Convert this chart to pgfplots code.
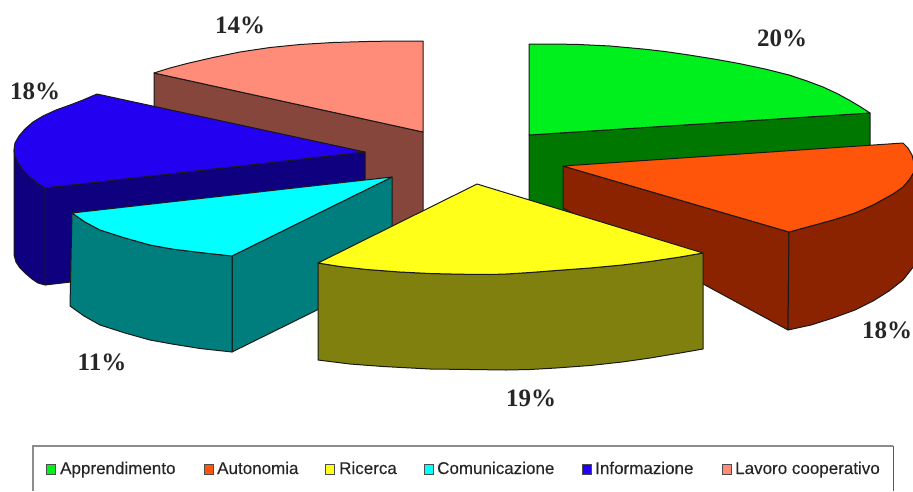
\documentclass[border=0pt]{standalone}
\usepackage{pgfplots}
\pgfplotsset{compat=1.18}
\usepackage{fontspec}
\setmainfont{Liberation Serif}
\newfontfamily\legendfont[FakeBold=0.25]{Liberation Sans}
\definecolor{greenT}{RGB}{0,240,30}
\definecolor{greenS}{RGB}{0,120,0}
\definecolor{orangeT}{RGB}{255,85,10}
\definecolor{orangeS}{RGB}{140,35,0}
\definecolor{yellowT}{RGB}{255,255,25}
\definecolor{yellowS}{RGB}{128,128,15}
\definecolor{cyanT}{RGB}{0,255,255}
\definecolor{cyanS}{RGB}{0,125,125}
\definecolor{blueT}{RGB}{35,0,240}
\definecolor{blueS}{RGB}{15,0,128}
\definecolor{salmonT}{RGB}{255,140,120}
\definecolor{salmonS}{RGB}{135,70,60}
\tikzset{
  face/.style={draw=black!90,line width=1pt,line join=round,fill=#1,mark=none},
  swatch/.style={draw=black!70,line width=0.8pt,fill=#1,mark=none},
  pct/.style={font=\fontsize{25}{25}\selectfont\bfseries,text=black!85,inner sep=0pt},
  key/.style={font=\legendfont\fontsize{17}{17}\selectfont,text=black!85,anchor=base west,inner sep=0pt},
}
\begin{document}
\begin{tikzpicture}
\begin{axis}[
  scale only axis,width=913pt,height=491pt,
  xmin=0,xmax=913,ymin=0,ymax=491,y dir=reverse,
  axis lines=none,clip=true]
% Reserve the whole plotting area for the page
\path (rel axis cs:0,0) rectangle (rel axis cs:1,1);
% Lavoro cooperativo, 14%
\addplot[face=salmonS] coordinates {(154,73)(423,132)(423,250)(154,180)} --cycle;
\addplot[face=salmonT] coordinates {(154,73)(170,68)(187,63.5)(213,57.5)(240,52)(270,47.5)(300,44.5)(333,42.5)(367,41.5)(395,41)(423,41)(423,132)} --cycle;
% Apprendimento, 20%
\addplot[face=greenS] coordinates {(529,135)(870,113)(870,170)(529,230)} --cycle;
\addplot[face=greenT] coordinates {(529,44)(555,44)(579,44.5)(610,46)(643,49)(665,51.5)(689,55)(714,59)(739,63.5)(765,69)(789,75)(807,81)(823,87)(837,93.5)(849,100)(860,106.5)(870,113)(529,135)} --cycle;
% Informazione, 18%
\addplot[face=blueS] coordinates {(45,188)(365,152)(365,248)(45,285)} --cycle;
\addplot[face=blueS] coordinates {(14,150)(15,156)(18,163)(23,170)(30,177)(37,183)(45,188)(45,285)(38,283)(32,279)(25,273)(20,268)(16,262)(14,255)} --cycle;
\addplot[face=blueT] coordinates {(97,94)(83,100)(70,105)(56,110)(43,116)(33,122)(25,129)(19,136)(15,143)(14,150)(15,156)(18,163)(23,170)(30,177)(37,183)(45,188)(365,152)} --cycle;
% Comunicazione, 11%
\addplot[face=cyanS] coordinates {(232,256)(392,177)(392,273)(232,352)} --cycle;
\addplot[face=cyanS] coordinates {(72,213)(85,222)(100,230)(125,238)(150,245)(172,249)(200,252.5)(232,256)(232,352)(200,348.5)(172,344)(150,340)(125,333)(100,325)(84,316)(70,306)} --cycle;
\addplot[face=cyanT] coordinates {(72,213)(392,177)(232,256)(200,252.5)(172,249)(150,245)(125,238)(100,230)(85,222)} --cycle;
% Autonomia, 18%
\addplot[face=orangeS] coordinates {(563,166)(789,232)(788,330)(563,208)} --cycle;
\addplot[face=orangeS] coordinates {(789,232)(811,226)(833,220)(855,213)(873,205)(893,194)(903,187)(909,180)(914,172)(914,266)(903,280)(889,291)(873,301)(855,310)(833,318)(811,325)(788,330)} --cycle;
\addplot[face=orangeT] coordinates {(563,166)(903,143)(908,148)(912,155)(914,163)(914,172)(909,180)(903,187)(893,194)(873,205)(855,213)(833,220)(811,226)(789,232)} --cycle;
% Ricerca, 19%
\addplot[face=yellowS] coordinates {(318,263)(340,266.5)(367,269.5)(400,272)(430,273.5)(460,274.2)(490,274.5)(506,274)(530,272.5)(556,270.5)(590,268)(622,265)(650,261.5)(680,257)(703,253)(703,349)(680,353)(650,358)(622,362)(590,365.5)(556,368)(530,369.5)(506,370)(470,369.5)(430,369)(383,366.5)(350,364)(318,360)} --cycle;
\addplot[face=yellowT] coordinates {(318,263)(477,184)(703,253)(680,257)(650,261.5)(622,265)(590,268)(556,270.5)(530,272.5)(506,274)(490,274.5)(460,274.2)(430,273.5)(400,272)(367,269.5)(340,266.5)} --cycle;
% Percent labels
\node[pct] at (axis cs:240,25) {14\%};
\node[pct] at (axis cs:782,38) {20\%};
\node[pct] at (axis cs:35,91) {18\%};
\node[pct] at (axis cs:887,330) {18\%};
\node[pct] at (axis cs:531,398) {19\%};
\node[pct] at (axis cs:102,362) {11\%};
% Legend frame, open at the lower edge
\addplot[draw=black!45,line width=1.6pt,mark=none] coordinates {(33,491)(33,446)(893,446)};
\addplot[draw=black!65,line width=1pt,mark=none] coordinates {(893,446)(893,491)};
% Legend keys
\addplot[swatch=greenT] coordinates {(46,464)(55,464)(55,474)(46,474)} --cycle;
\addplot[swatch=orangeT] coordinates {(204,464)(213,464)(213,474)(204,474)} --cycle;
\addplot[swatch=yellowT] coordinates {(325,464)(334,464)(334,474)(325,474)} --cycle;
\addplot[swatch=cyanT] coordinates {(424,464)(433,464)(433,474)(424,474)} --cycle;
\addplot[swatch=blueT] coordinates {(582,464)(591,464)(591,474)(582,474)} --cycle;
\addplot[swatch=salmonT] coordinates {(722,464)(731,464)(731,474)(722,474)} --cycle;
\node[key] at (axis cs:60,474) {Apprendimento};
\node[key] at (axis cs:217,474) {Autonomia};
\node[key] at (axis cs:339,474) {Ricerca};
\node[key] at (axis cs:437,474) {Comunicazione};
\node[key] at (axis cs:595,474) {Informazione};
\node[key] at (axis cs:735,474) {Lavoro cooperativo};
\end{axis}
\end{tikzpicture}
\end{document}
